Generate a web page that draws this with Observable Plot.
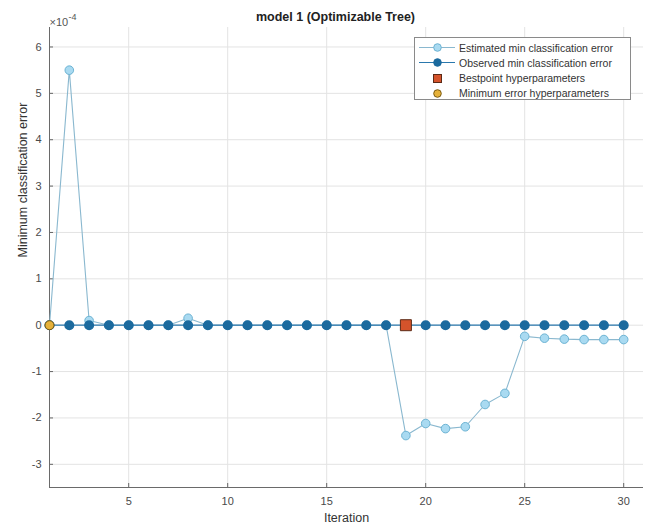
<!DOCTYPE html>
<html>
<head>
<meta charset="utf-8">
<script src="https://cdn.jsdelivr.net/npm/d3@7"></script>
<script src="https://cdn.jsdelivr.net/npm/@observablehq/plot@0.6"></script>
<style>
  html, body { margin: 0; padding: 0; background: #fff; }
  #wrap { position: relative; width: 647px; height: 529px; font-family: "Liberation Sans", Arial, sans-serif; }
  #legend { position: absolute; left: 414px; top: 37px; width: 217px; height: 63px; border: 1px solid #8a8a8a; background: #fff; font-size: 10.5px; color: #333; box-sizing: border-box; }
  #legend .row { position: absolute; left: 0; height: 15px; display: flex; align-items: center; }
  #legend .row span { position: absolute; left: 44px; white-space: nowrap; }
</style>
</head>
<body>
<div id="wrap"></div>
<script>
// Bayesian optimisation trace, values in units of 1e-4
const iterations = d3.range(1, 31);
const estimated = [0, 5.5, 0.1, 0, 0, 0, 0, 0.15, 0, 0,
                   0, 0, 0, 0, 0, 0, 0, 0, -2.38, -2.12,
                   -2.23, -2.19, -1.71, -1.47, -0.24, -0.28, -0.30, -0.31, -0.31, -0.31];
const observed = [0, 0, 0, 0, 0, 0, 0, 0, 0, 0,
                  0, 0, 0, 0, 0, 0, 0, 0, 0, 0,
                  0, 0, 0, 0, 0, 0, 0, 0, 0, 0];
const bestpoint = {iteration: 19, value: 0};
const minError = {iteration: 1, value: 0};
const yTicks = [-3, -2, -1, 0, 1, 2, 3, 4, 5, 6];
const xTicks = [5, 10, 15, 20, 25, 30];
const scale = 1e-4;

const estColor = "#8ab8cf", estFill = "#a9daf1", estEdge = "#6cb3d3";
const obsColor = "#2a78ad", obsFill = "#1b6a9e";
const bestFill = "#d5532b", bestEdge = "#5b2a17";
const minFill = "#e5b13a", minEdge = "#7a5a10";

const estData = iterations.map((it, i) => ({iteration: it, value: estimated[i] * scale}));
const obsData = iterations.map((it, i) => ({iteration: it, value: observed[i] * scale}));

const chart = Plot.plot({
  width: 647,
  height: 529,
  marginLeft: 49,
  marginRight: 4,
  marginTop: 27,
  marginBottom: 42,
  style: {fontFamily: "Liberation Sans, Arial, sans-serif", fontSize: "11px", color: "#4a4a4a", background: "#fff"},
  x: {domain: [1, 31], ticks: xTicks, label: null},
  y: {domain: [-3.5e-4, 6.42e-4], ticks: yTicks.map(t => t * scale), label: null},
  marks: [
    Plot.gridX(xTicks, {stroke: "#e3e3e3", strokeOpacity: 1}),
    Plot.gridY(yTicks.map(t => t * scale), {stroke: "#e3e3e3", strokeOpacity: 1}),
    Plot.axisX({ticks: xTicks, tickSize: -4, tickPadding: 14, stroke: "#666", fontSize: 11, label: null}),
    Plot.axisY({ticks: yTicks.map(t => t * scale), tickSize: -4, tickPadding: 12, stroke: "#666", fontSize: 11,
                tickFormat: d => String(Math.round(d / scale)), label: null}),
    Plot.ruleX([1], {stroke: "#6a6a6a"}),
    Plot.ruleY([-3.5e-4], {stroke: "#6a6a6a"}),
    Plot.line(estData, {x: "iteration", y: "value", stroke: estColor, strokeWidth: 1.1}),
    Plot.dot(estData, {x: "iteration", y: "value", r: 4.3, fill: estFill, stroke: estEdge, strokeWidth: 1}),
    Plot.line(obsData, {x: "iteration", y: "value", stroke: obsColor, strokeWidth: 1.3}),
    Plot.dot(obsData, {x: "iteration", y: "value", r: 4.3, fill: obsFill, stroke: obsFill}),
    Plot.dot([bestpoint], {x: "iteration", y: "value", symbol: "square", r: 6.2, fill: bestFill, stroke: bestEdge, strokeWidth: 1}),
    Plot.dot([minError], {x: "iteration", y: "value", r: 4.5, fill: minFill, stroke: minEdge, strokeWidth: 1}),
    Plot.text(["model 1 (Optimizable Tree)"], {frameAnchor: "top", dy: -15, dx: -11, fontWeight: "bold", fontSize: 12.5, fill: "#222"}),
    // axis exponent: ×10 with a raised -4
    Plot.text(["×10"], {frameAnchor: "top-left", dy: -9, dx: 0, textAnchor: "start", fontSize: 11, fill: "#555"}),
    Plot.text(["-4"], {frameAnchor: "top-left", dy: -14, dx: 19, textAnchor: "start", fontSize: 9, fill: "#555"}),
    Plot.text(["Iteration"], {frameAnchor: "bottom", dy: 34, fontSize: 12.5, fill: "#333"}),
    Plot.text(["Minimum classification error"], {frameAnchor: "left", dx: -27, rotate: -90, fontSize: 12.5, fill: "#333"})
  ]
});

const wrap = document.getElementById("wrap");
wrap.appendChild(chart);

// Legend box
const legendItems = [
  {label: "Estimated min classification error", line: estColor, shape: "circle", fill: estFill, stroke: estEdge},
  {label: "Observed min classification error", line: obsColor, shape: "circle", fill: obsFill, stroke: obsFill},
  {label: "Bestpoint hyperparameters", line: null, shape: "square", fill: bestFill, stroke: bestEdge},
  {label: "Minimum error hyperparameters", line: null, shape: "circle", fill: minFill, stroke: minEdge}
];
const legend = document.createElement("div");
legend.id = "legend";
legendItems.forEach((item, i) => {
  const row = document.createElement("div");
  row.className = "row";
  row.style.top = (2 + i * 15.3) + "px";
  row.style.width = "215px";
  const ns = "http://www.w3.org/2000/svg";
  const svg = document.createElementNS(ns, "svg");
  svg.setAttribute("width", 40); svg.setAttribute("height", 15);
  svg.style.position = "absolute"; svg.style.left = "2px";
  if (item.line) {
    const l = document.createElementNS(ns, "line");
    l.setAttribute("x1", 2); l.setAttribute("x2", 38); l.setAttribute("y1", 7.5); l.setAttribute("y2", 7.5);
    l.setAttribute("stroke", item.line); l.setAttribute("stroke-width", 1.2);
    svg.appendChild(l);
  }
  let m;
  if (item.shape === "square") {
    m = document.createElementNS(ns, "rect");
    m.setAttribute("x", 16.5); m.setAttribute("y", 3.5); m.setAttribute("width", 8); m.setAttribute("height", 8);
  } else {
    m = document.createElementNS(ns, "circle");
    m.setAttribute("cx", 20.5); m.setAttribute("cy", 7.5); m.setAttribute("r", 3.8);
  }
  m.setAttribute("fill", item.fill); m.setAttribute("stroke", item.stroke);
  svg.appendChild(m);
  row.appendChild(svg);
  const t = document.createElement("span");
  t.textContent = item.label;
  row.appendChild(t);
  legend.appendChild(row);
});
wrap.appendChild(legend);
</script>
</body>
</html>
